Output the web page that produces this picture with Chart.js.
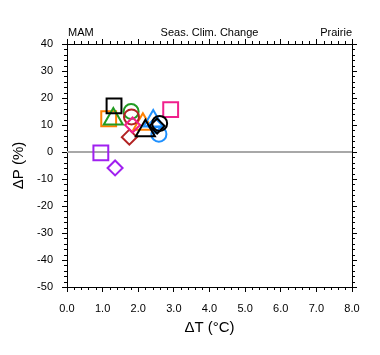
<!DOCTYPE html>
<html>
<head>
<meta charset="utf-8">
<script src="https://cdn.jsdelivr.net/npm/chart.js@4"></script>
<style>
  html, body { margin: 0; padding: 0; background: #fff; }
  canvas { display: block; }
</style>
</head>
<body>
<canvas id="c" width="380" height="355"></canvas>
<script>
// Axis settings / tick labels
const xTickValues = [0, 1, 2, 3, 4, 5, 6, 7, 8];
const yTickValues = [-50, -40, -30, -20, -10, 0, 10, 20, 30, 40];
const titleLeft = "MAM";
const titleCenter = "Seas. Clim. Change";
const titleRight = "Prairie";
const xTitle = "\u0394T (\u00B0C)";
const yTitle = "\u0394P (%)";

// Data: ΔT (°C) and ΔP (%), one group per colour
const blackT = [1.32, 2.20, 2.60, 2.53];
const blackP = [17.1, 7.9, 10.6, 9.6];
const blackShape = ["rect", "triangle", "circle", "rectRot"];

const orangeT = [1.17, 2.13];
const orangeP = [12.3, 10.3];
const orangeShape = ["rect", "triangle"];

const greenT = [1.30, 1.80];
const greenP = [12.2, 15.0];
const greenShape = ["triangle", "circle"];

const redT = [1.81, 1.75];
const redP = [13.0, 5.5];
const redShape = ["circle", "rectRot"];

const pinkT = [2.91, 1.84];
const pinkP = [15.7, 10.0];
const pinkShape = ["rect", "rectRot"];

const blueT = [2.42, 2.58, 2.47];
const blueP = [11.5, 6.6, 9.8];
const blueShape = ["triangle", "circle", "rectRot"];

const purpleT = [0.95, 1.35];
const purpleP = [-0.3, -5.9];
const purpleShape = ["rect", "rectRot"];

const zeroLineT = [0, 8];
const zeroLineP = [0, 0];

// styles
const shapeRadius = { rect: 10.5, circle: 7.5, rectRot: 7.5, triangle: 11 };

function group(label, T, P, shapes, color, order) {
  return {
    type: "scatter",
    label: label,
    data: T.map((t, i) => ({ x: t, y: P[i] })),
    pointStyle: shapes,
    pointRadius: shapes.map(s => shapeRadius[s]),
    pointHoverRadius: shapes.map(s => shapeRadius[s]),
    pointBorderColor: color,
    pointBackgroundColor: "rgba(0,0,0,0)",
    pointBorderWidth: 2,
    pointHoverBorderWidth: 2,
    showLine: false,
    order: order
  };
}

const datasets = [
  {
    type: "line",
    label: "zero",
    data: zeroLineT.map((t, i) => ({ x: t, y: zeroLineP[i] })),
    borderColor: "#a8a8a8",
    borderWidth: 2,
    pointRadius: 0,
    fill: false,
    order: 100
  },
  group("purple", purpleT, purpleP, purpleShape, "#a020f0", 9),
  group("orange", orangeT, orangeP, orangeShape, "#ff8000", 8),
  group("green", greenT, greenP, greenShape, "#229b22", 7),
  group("red", redT, redP, redShape, "#b22222", 6),
  group("pink", pinkT, pinkP, pinkShape, "#f0208c", 5),
  group("blue", blueT, blueP, blueShape, "#1e90ff", 4),
  group("black", blackT, blackP, blackShape, "#000000", 3)
];

const FONT = "'Liberation Sans', Arial, Helvetica, sans-serif";
const MAJOR = 5, MINOR = 3;

const gridOpts = {
  display: true,
  drawOnChartArea: false,
  drawTicks: true,
  tickLength: MAJOR,
  tickColor: "#000",
  tickWidth: 1
};
const borderOpts = { display: true, color: "#000", width: 1 };

const decor = {
  id: "decor",
  afterDraw(chart) {
    const { ctx, chartArea: a, scales } = chart;
    ctx.save();
    ctx.strokeStyle = "#000";
    ctx.lineWidth = 1;
    ctx.beginPath();
    const xs = scales.x, ys = scales.y;
    for (let i = 0; i < xTickValues.length - 1; i++) {
      for (let k = 1; k < 5; k++) {
        const v = xTickValues[i] + (xTickValues[i + 1] - xTickValues[i]) * k / 5;
        const px = Math.round(xs.getPixelForValue(v)) + 0.5;
        ctx.moveTo(px, a.bottom); ctx.lineTo(px, a.bottom + MINOR);
        ctx.moveTo(px, a.top); ctx.lineTo(px, a.top - MINOR);
      }
    }
    for (let i = 0; i < yTickValues.length - 1; i++) {
      for (let k = 1; k < 5; k++) {
        const v = yTickValues[i] + (yTickValues[i + 1] - yTickValues[i]) * k / 5;
        const py = Math.round(ys.getPixelForValue(v)) + 0.5;
        ctx.moveTo(a.left, py); ctx.lineTo(a.left - MINOR, py);
        ctx.moveTo(a.right, py); ctx.lineTo(a.right + MINOR, py);
      }
    }
    ctx.stroke();
    ctx.fillStyle = "#000";
    ctx.font = "11px " + FONT;
    ctx.textBaseline = "alphabetic";
    const ty = a.top - 8;
    ctx.textAlign = "left";
    ctx.fillText(titleLeft, a.left + 1, ty);
    ctx.textAlign = "center";
    ctx.fillText(titleCenter, (a.left + a.right) / 2, ty);
    ctx.textAlign = "right";
    ctx.fillText(titleRight, a.right, ty);
    ctx.restore();
  }
};

new Chart(document.getElementById("c"), {
  type: "scatter",
  data: { datasets: datasets },
  options: {
    responsive: false,
    animation: false,
    events: [],
    layout: { padding: 0 },
    plugins: {
      legend: { display: false },
      tooltip: { enabled: false },
      title: { display: false }
    },
    scales: {
      x: {
        type: "linear", position: "bottom", min: 0, max: 8,
        afterBuildTicks: s => { s.ticks = xTickValues.map(v => ({ value: v })); },
        ticks: {
          callback: v => Number(v).toFixed(1),
          font: { family: FONT, size: 11 }, color: "#000", padding: 10,
          maxRotation: 0, autoSkip: false
        },
        grid: gridOpts, border: borderOpts,
        title: {
          display: true, text: xTitle, color: "#000",
          font: { family: FONT, size: 15 }, padding: { top: 0, bottom: 18 }
        },
        afterFit: s => { s.height = 68; }
      },
      x2: {
        type: "linear", position: "top", min: 0, max: 8,
        afterBuildTicks: s => { s.ticks = xTickValues.map(v => ({ value: v })); },
        ticks: { display: false },
        grid: gridOpts, border: borderOpts,
        afterFit: s => { s.height = 44; }
      },
      y: {
        type: "linear", position: "left", min: -50, max: 40,
        afterBuildTicks: s => { s.ticks = yTickValues.map(v => ({ value: v })); },
        ticks: {
          callback: v => String(v),
          font: { family: FONT, size: 11 }, color: "#000", padding: 9,
          autoSkip: false
        },
        grid: gridOpts, border: borderOpts,
        title: {
          display: true, text: yTitle, color: "#000",
          font: { family: FONT, size: 15 }, padding: { top: 10, bottom: 0 }
        },
        afterFit: s => { s.width = 67; }
      },
      y2: {
        type: "linear", position: "right", min: -50, max: 40,
        afterBuildTicks: s => { s.ticks = yTickValues.map(v => ({ value: v })); },
        ticks: { display: false },
        grid: gridOpts, border: borderOpts,
        afterFit: s => { s.width = 28; }
      }
    }
  },
  plugins: [decor]
});
</script>
</body>
</html>
